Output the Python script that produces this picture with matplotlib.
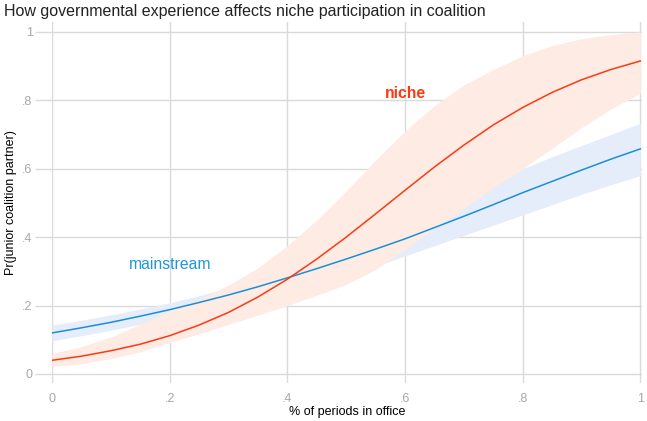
import matplotlib.pyplot as plt

plt.rcParams['font.family'] = ['Liberation Sans', 'DejaVu Sans']

# share of periods in office
x = [0, .05, .1, .15, .2, .25, .3, .35, .4, .45, .5,
     .55, .6, .65, .7, .75, .8, .85, .9, .95, 1]

# mainstream parties: prediction and 95% band
main_y = [.120, .135, .151, .169, .188, .209, .231, .255, .281, .308, .336,
          .365, .395, .428, .461, .495, .530, .563, .596, .628, .658]
main_lo = [.097, .112, .128, .145, .162, .181, .200, .221, .243, .266, .290,
           .315, .345, .375, .405, .435, .465, .495, .525, .553, .580]
main_hi = [.143, .157, .173, .190, .208, .229, .252, .277, .305, .336, .370,
           .405, .440, .478, .518, .558, .600, .635, .668, .700, .733]

# niche parties: prediction and 95% band
niche_y = [.040, .052, .068, .087, .112, .143, .180, .225, .277, .336, .400,
           .468, .537, .605, .669, .728, .779, .823, .860, .890, .915]
niche_lo = [.022, .030, .045, .065, .092, .118, .145, .172, .200, .230, .262,
            .305, .365, .425, .485, .545, .600, .660, .720, .775, .820]
niche_hi = [.060, .080, .108, .145, .185, .218, .260, .310, .375, .450, .535,
            .625, .710, .785, .845, .890, .930, .960, .980, .992, 1.0]

ticks = [0, .2, .4, .6, .8, 1]
tick_labels = ['0', '.2', '.4', '.6', '.8', '1']

fig = plt.figure(figsize=(6.47, 4.21), dpi=100)
ax = fig.add_axes([0.0804, 0.0903, 0.9111, 0.8575])

ax.fill_between(x, main_lo, main_hi, color='#e5edfa', lw=0, zorder=2)
ax.fill_between(x, niche_lo, niche_hi, color='#fdebe4', lw=0, zorder=3)
ax.plot(x, main_y, color='#1b8fd5', lw=1.1, zorder=4)
ax.plot(x, niche_y, color='#fb3a14', lw=1.1, zorder=5)

ax.text(.2, .319, 'mainstream', color='#1f96d8', fontsize=11.3,
        ha='center', va='center')
ax.text(.601, .819, 'niche', color='#fb3a14', fontsize=11.3,
        fontweight='bold', ha='center', va='center')

ax.set_xlim(0, 1.002)
ax.set_ylim(-0.0263, 1.029)
ax.set_xticks(ticks)
ax.set_xticklabels(tick_labels)
ax.set_yticks(ticks)
ax.set_yticklabels(tick_labels)
ax.grid(True, color='#dadada', lw=1, zorder=0)
ax.set_axisbelow(True)
for s in ax.spines.values():
    s.set_visible(False)
ax.tick_params(axis='x', length=0, pad=7, labelsize=9, labelcolor='#a8a8a8')
ax.tick_params(axis='y', length=12, width=1, color='#dadada', pad=2,
               labelsize=9, labelcolor='#a8a8a8')

ax.set_xlabel('% of periods in office', fontsize=9, labelpad=1)
ax.set_ylabel('Pr(junior coalition partner)', fontsize=9, labelpad=4)

fig.text(0.006, 0.99, 'How governmental experience affects niche participation in coalition',
         fontsize=11.5, ha='left', va='top', color='#222222')

fig.savefig('out.png', dpi=100)
